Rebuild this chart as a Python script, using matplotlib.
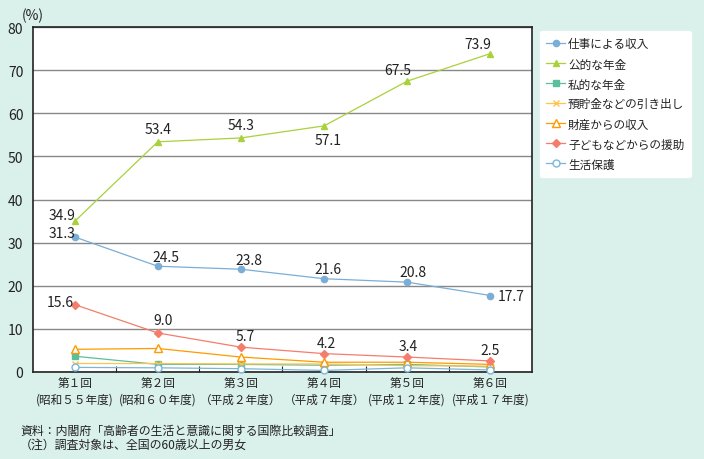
import matplotlib
matplotlib.use("Agg")
import matplotlib.pyplot as plt
from matplotlib.ticker import FixedLocator, NullFormatter

plt.rcParams['font.family'] = ['Noto Sans CJK JP', 'DejaVu Sans']

categories = ["第１回\n(昭和５５年度)", "第２回\n(昭和６０年度)", "第３回\n（平成２年度）",
              "第４回\n（平成７年度）", "第５回\n(平成１２年度)", "第６回\n(平成１７年度)"]
series_names = ["仕事による収入", "公的な年金", "私的な年金", "預貯金などの引き出し",
                "財産からの収入", "子どもなどからの援助", "生活保護"]
work = [31.3, 24.5, 23.8, 21.6, 20.8, 17.7]
public_pension = [34.9, 53.4, 54.3, 57.1, 67.5, 73.9]
private_pension = [3.6, 1.7, 1.7, 1.5, 1.7, 1.1]
savings = [1.9, 1.9, 1.8, 1.8, 1.4, 1.3]
property_income = [5.2, 5.4, 3.4, 2.2, 2.2, 1.7]
children = [15.6, 9.0, 5.7, 4.2, 3.4, 2.5]
welfare = [1.0, 0.9, 0.7, 0.3, 0.9, 0.4]
yticks = [0, 10, 20, 30, 40, 50, 60, 70, 80]

bg = '#daf0ea'
txt = '#222222'
fig = plt.figure(figsize=(7.04, 4.60), dpi=100, facecolor=bg)
ax = fig.add_axes([33/704, 1-372.7/460, (532-33)/704, (372.7-28.3)/460])
ax.set_facecolor('white')

x = list(range(len(categories)))
styles = [
    (work, '#7aaed6', dict(marker='o', markersize=4.5, markerfacecolor='#7aaed6', markeredgecolor='#7aaed6')),
    (public_pension, '#a9d13b', dict(marker='^', markersize=5, markerfacecolor='#a9d13b', markeredgecolor='#a9d13b')),
    (private_pension, '#5cbf9c', dict(marker='s', markersize=4.5, markerfacecolor='#5cbf9c', markeredgecolor='#5cbf9c')),
    (savings, '#ffc24a', dict(marker='x', markersize=5, markeredgecolor='#ffc24a', markeredgewidth=1)),
    (property_income, '#ff9a00', dict(marker='^', markersize=5.5, markerfacecolor='white', markeredgecolor='#ff9a00', markeredgewidth=1)),
    (children, '#f57d6b', dict(marker='D', markersize=4.5, markerfacecolor='#f57d6b', markeredgecolor='#f57d6b')),
    (welfare, '#7ab6da', dict(marker='o', markersize=5, markerfacecolor='white', markeredgecolor='#7ab6da', markeredgewidth=1)),
]
for (vals, col, kw), name in zip(styles, series_names):
    ax.plot(x, vals, color=col, lw=0.9, label=name, clip_on=False, zorder=3, **kw)

fs = 10
def lab(i, vals, dx, dy, ha='center'):
    ax.annotate(f"{vals[i]:.1f}", (x[i], vals[i]), xytext=(dx, dy), textcoords='offset points',
                ha=ha, va='center', fontsize=fs, color=txt, zorder=5)

pub_off = [(-9, 5), (0, 9), (0, 9), (3, -10), (-7, 8), (-9, 7)]
for i, (dx, dy) in enumerate(pub_off):
    lab(i, public_pension, dx, dy)
work_off = [(-9, 3), (6, 7), (6, 7), (3, 7), (4, 7), (15, 0)]
for i, (dx, dy) in enumerate(work_off):
    lab(i, work, dx, dy)
child_off = [(-10, 2), (4, 9), (3, 8), (2, 8), (1, 8), (0, 8)]
for i, (dx, dy) in enumerate(child_off):
    lab(i, children, dx, dy)

ax.set_xlim(-0.5, len(categories) - 0.5)
ax.set_ylim(0, 80)
ax.set_yticks(yticks)
ax.yaxis.grid(True, color='#888888', lw=1)
ax.set_axisbelow(True)
ax.tick_params(axis='y', length=0, labelsize=fs, pad=7, colors=txt)

ax.xaxis.set_major_locator(FixedLocator([i + 0.5 for i in range(len(categories) - 1)]))
ax.xaxis.set_major_formatter(NullFormatter())
ax.xaxis.set_minor_locator(FixedLocator(x))
ax.set_xticklabels(categories, minor=True)
ax.tick_params(axis='x', which='major', direction='in', length=4, color=txt)
ax.tick_params(axis='x', which='minor', length=0, labelsize=8.4, pad=3, colors=txt)
for lbl in ax.get_xticklabels(minor=True):
    lbl.set_linespacing(1.35)

for s in ax.spines.values():
    s.set_color(txt)
    s.set_linewidth(1.2)

leg = ax.legend(loc='upper left', bbox_to_anchor=(540/704, 1-32/460), bbox_transform=fig.transFigure,
                frameon=True, fontsize=8.4, handlelength=1.6, handletextpad=0.25, labelspacing=0.6,
                borderpad=0.55, borderaxespad=0, fancybox=True, edgecolor='white', facecolor='white',
                framealpha=1)
for t in leg.get_texts():
    t.set_color(txt)

fig.text(22/704, 1-16/460, "(%)", fontsize=fs, color=txt, va='center')
fig.text(20/704, 1-431/460, "資料：内閣府「高齢者の生活と意識に関する国際比較調査」", fontsize=8.6, color=txt, va='center')
fig.text(20/704, 1-445/460, "（注）調査対象は、全国の60歳以上の男女", fontsize=8.6, color=txt, va='center')

fig.savefig("out.png", dpi=100, facecolor=bg)
